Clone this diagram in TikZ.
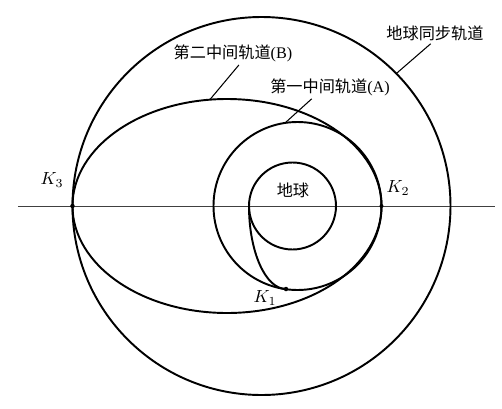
\documentclass[tikz,border=0pt]{standalone}
\usepackage{fontspec}
\setmainfont{Liberation Serif}
\newfontfamily\cjk{Noto Sans CJK SC}
\begin{document}
\begin{tikzpicture}[orbit/.style={line width=1.1pt}, leader/.style={line width=0.6pt, shorten <=1pt}, cjklabel/.style={font=\fontsize{9.2}{11}\selectfont, inner sep=1pt}, klabel/.style={font=\fontsize{10}{12}\selectfont, inner sep=1pt}]
\useasboundingbox (-5.23,-4.04) rectangle (4.81,4.12);

% Draw the axis
\draw[line width=0.5pt, black!75] (-4.87,0) -- (4.67,0);

% Draw the orbits
\draw[orbit] (0,0) circle (3.78);
\draw[orbit] (0.62,0) circle (0.87);
\draw[orbit] (0.72,0) circle (1.68);
\draw[orbit] (-0.69,0) ellipse (3.09 and 2.14);
\draw[orbit] (-0.25,0) arc (180:270:0.74 and 1.66);

% Transfer points
\coordinate (K1) at (0.49,-1.66);
\coordinate (K2) at (2.40,0);
\coordinate (K3) at (-3.78,0);
\fill (K1) circle (0.045);
\fill (K2) circle (0.04);
\fill (K3) circle (0.045);
\node[klabel] (k1) at (0.07,-1.84) {$K_1$};
\node[klabel] (k2) at (2.73,0.36) {$K_2$};
\node[klabel] (k3) at (-4.19,0.52) {$K_3$};

% Earth
\node[cjklabel] (earth) at (0.63,0.32) {\cjk 地球};

% Orbit labels and leaders
\coordinate (geo) at (44.5:3.78);
\coordinate (orbB) at (-1.03,2.13);
\coordinate (orbA) at (0.47,1.66);
\node[cjklabel] (geolabel) at (3.47,3.46) {\cjk 地球同步轨道};
\node[cjklabel] (Blabel) at (-0.57,3.06) {{\cjk 第二中间轨道}(B)};
\node[cjklabel] (Alabel) at (1.37,2.38) {{\cjk 第一中间轨道}(A)};
\draw[leader] ([xshift=-0.06cm]geolabel.south) -- (geo);
\draw[leader] ([xshift=0.14cm]Blabel.south) -- (orbB);
\draw[leader] ([xshift=-0.34cm]Alabel.south) -- (orbA);
\end{tikzpicture}
\end{document}
